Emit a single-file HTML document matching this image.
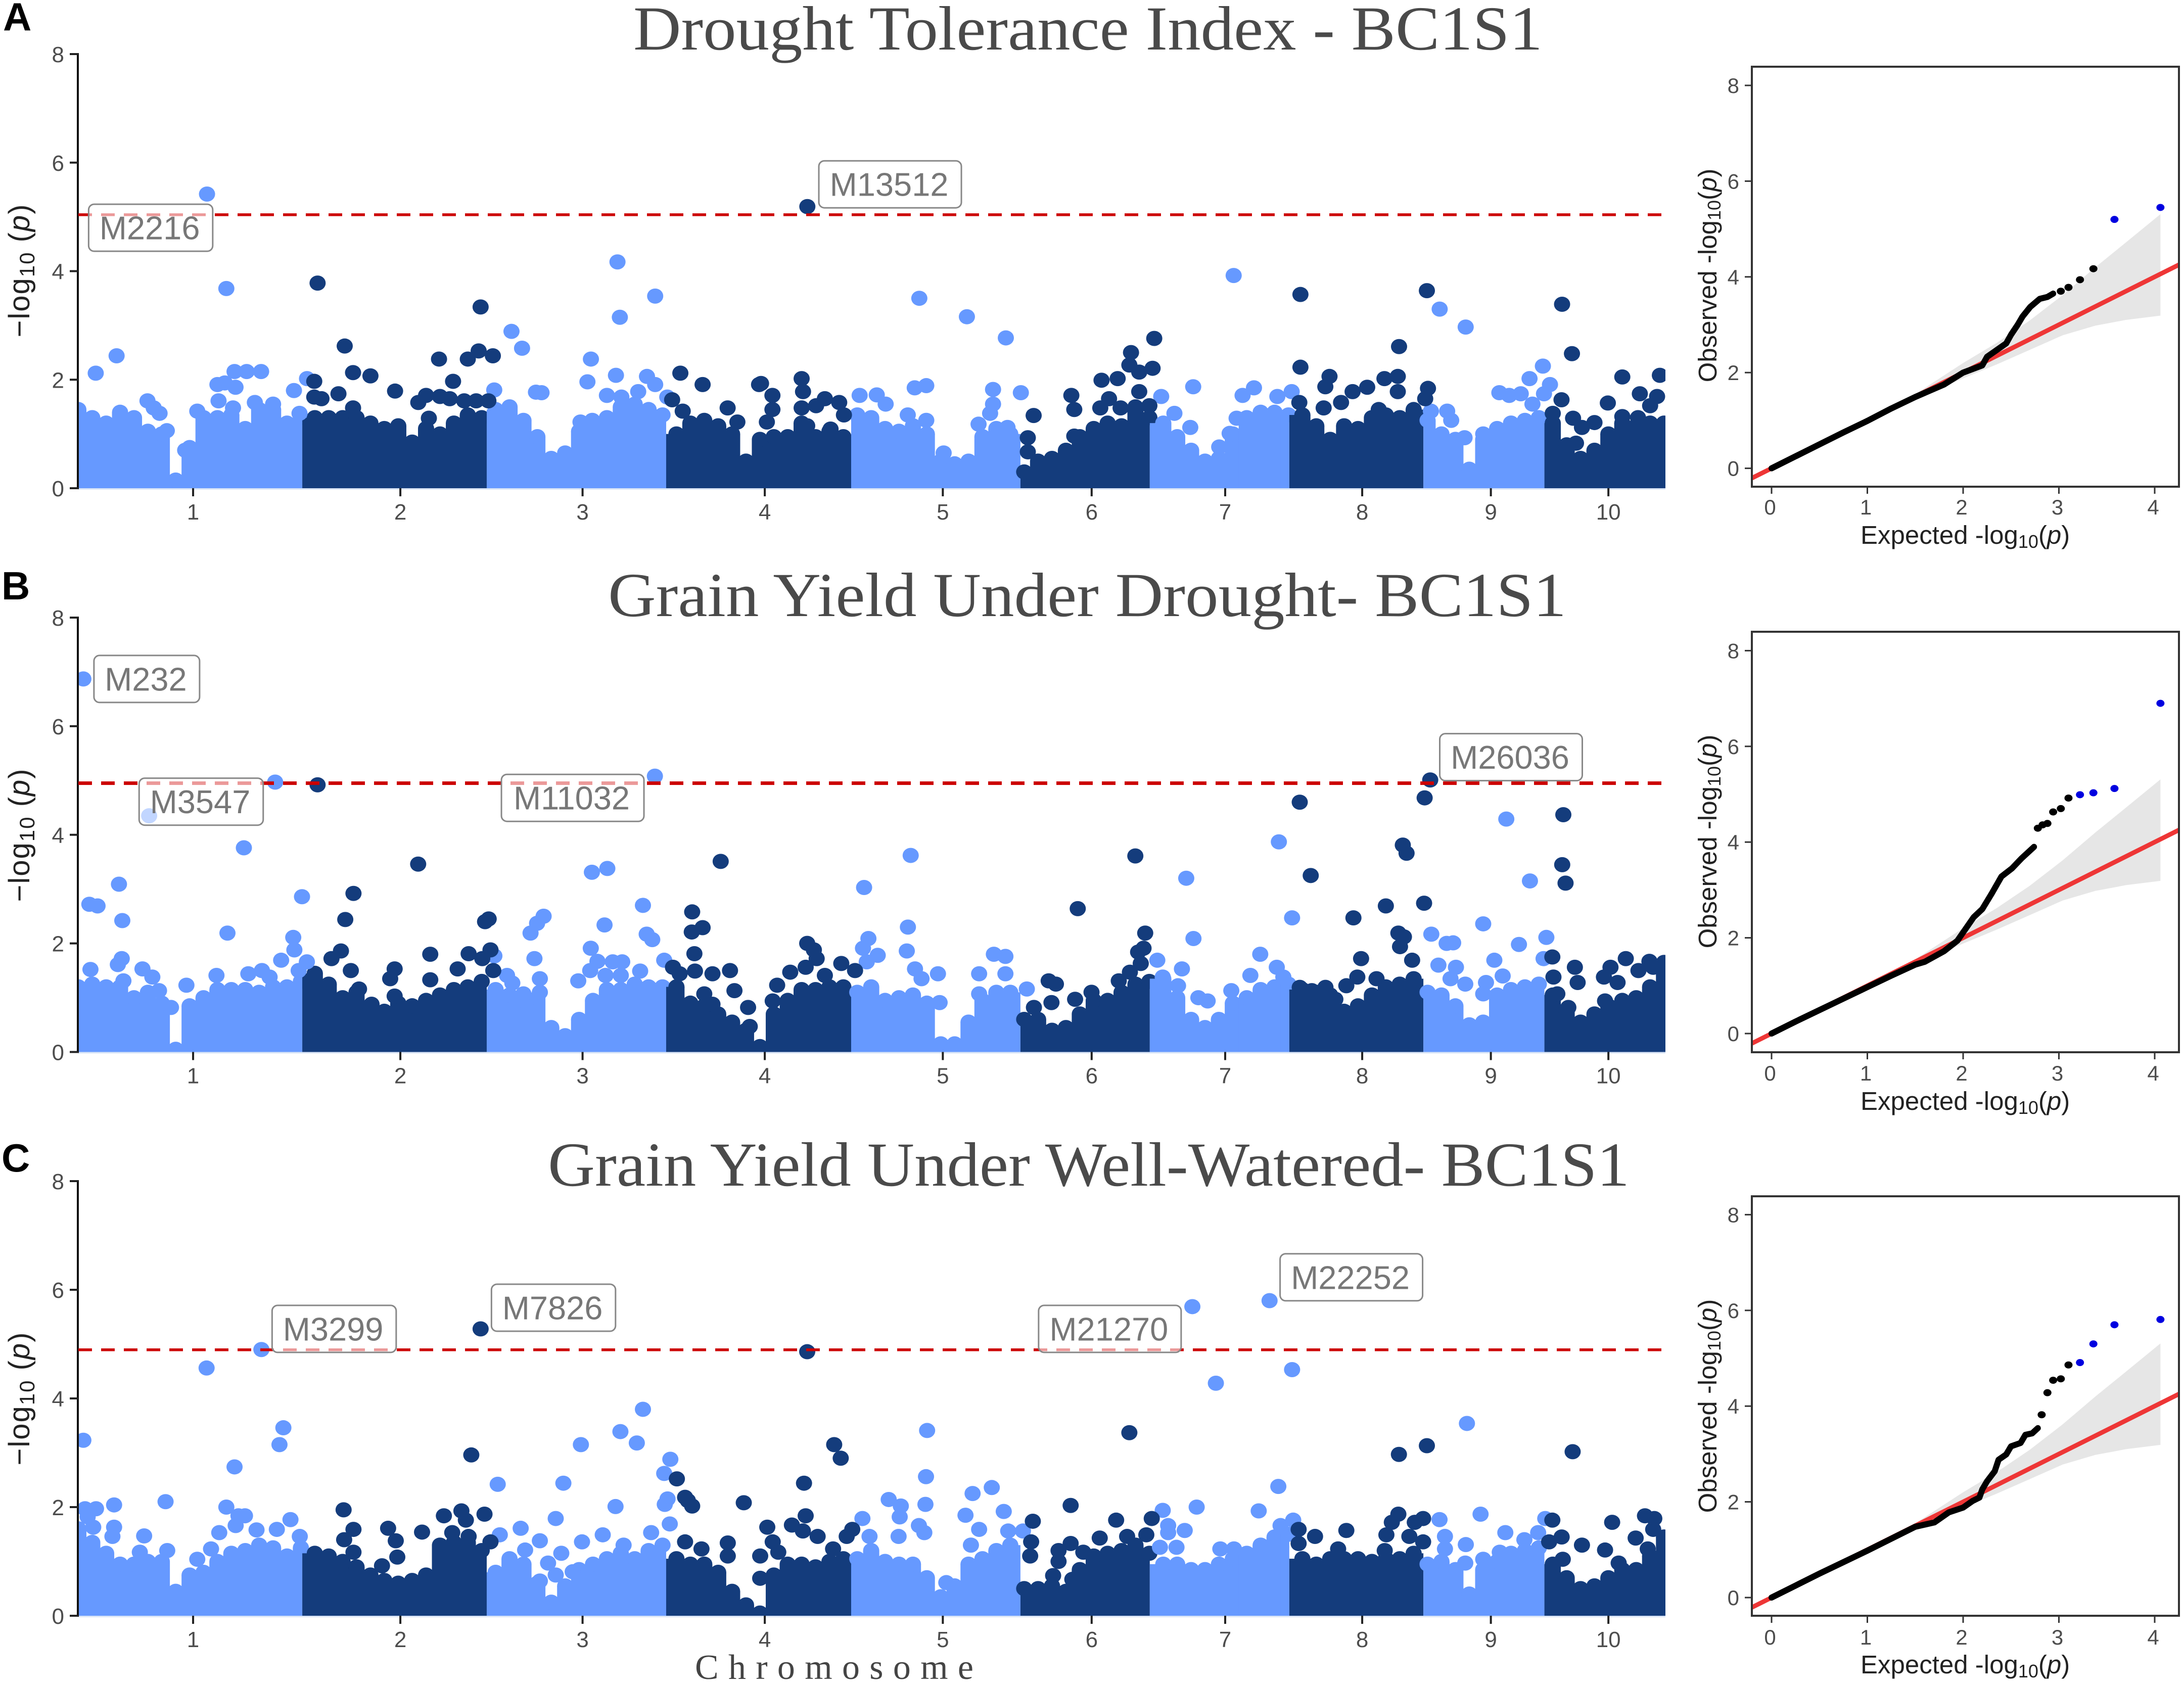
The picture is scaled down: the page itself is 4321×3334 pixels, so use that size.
<!DOCTYPE html>
<html lang="en">
<head>
<meta charset="utf-8">
<title>Manhattan and QQ plots - BC1S1</title>
<style>
html,body{margin:0;padding:0;background:#fff}
svg{display:block;font-family:"Liberation Sans",sans-serif}
.title{font-family:"Liberation Serif",serif;font-size:124px;fill:#4a4a4a}
.ylab{font-size:58px;fill:#222;letter-spacing:2px}
.qqlab{font-size:51px;fill:#222}
.letter{font-size:78px;font-weight:bold;fill:#000}
</style>
</head>
<body>
<svg id="figure" xmlns="http://www.w3.org/2000/svg" width="4321" height="3334" viewBox="0 0 4321 3334">
<rect width="4321" height="3334" fill="#fff"/>
<defs>
<clipPath id="clip-a"><rect x="155" y="90" width="3140" height="876"/></clipPath>
<clipPath id="clip-b"><rect x="155" y="1205" width="3140" height="877"/></clipPath>
<clipPath id="clip-c"><rect x="155" y="2320" width="3140" height="877"/></clipPath>
<clipPath id="clip-qa"><rect x="3466" y="132" width="845" height="831"/></clipPath>
<clipPath id="clip-qb"><rect x="3466" y="1250" width="845" height="832"/></clipPath>
<clipPath id="clip-qc"><rect x="3466" y="2367" width="845" height="830"/></clipPath>
</defs>
<text class="letter" x="6" y="60">A</text>
<text class="letter" x="3" y="1186">B</text>
<text class="letter" x="3" y="2318">C</text>
<text class="title" x="1253" y="98" textLength="1799" lengthAdjust="spacingAndGlyphs">Drought Tolerance Index - BC1S1</text>
<text class="title" x="1203" y="1219" textLength="1896" lengthAdjust="spacingAndGlyphs">Grain Yield Under Drought- BC1S1</text>
<text class="title" x="1084" y="2346" textLength="2140" lengthAdjust="spacingAndGlyphs">Grain Yield Under Well-Watered- BC1S1</text>
<text x="1375" y="3322" font-family="'Liberation Serif',serif" font-size="70" fill="#444" textLength="551" lengthAdjust="spacing">Chromosome</text>
<text class="ylab" text-anchor="middle" transform="translate(58,535) rotate(-90)">−log<tspan font-size="42" dy="10">10</tspan><tspan dy="-10"> (</tspan><tspan font-style="italic">p</tspan>)</text>
<text class="ylab" text-anchor="middle" transform="translate(58,1652) rotate(-90)">−log<tspan font-size="42" dy="10">10</tspan><tspan dy="-10"> (</tspan><tspan font-style="italic">p</tspan>)</text>
<text class="ylab" text-anchor="middle" transform="translate(58,2767) rotate(-90)">−log<tspan font-size="42" dy="10">10</tspan><tspan dy="-10"> (</tspan><tspan font-style="italic">p</tspan>)</text>
<text class="qqlab" x="3681" y="1076">Expected -log<tspan font-size="36" dy="8">10</tspan><tspan dy="-8">(</tspan><tspan font-style="italic">p</tspan>)</text>
<text class="qqlab" x="3681" y="2196">Expected -log<tspan font-size="36" dy="8">10</tspan><tspan dy="-8">(</tspan><tspan font-style="italic">p</tspan>)</text>
<text class="qqlab" x="3681" y="3311">Expected -log<tspan font-size="36" dy="8">10</tspan><tspan dy="-8">(</tspan><tspan font-style="italic">p</tspan>)</text>
<text class="qqlab" text-anchor="middle" transform="translate(3396,545) rotate(-90)">Observed -log<tspan font-size="36" dy="8">10</tspan><tspan dy="-8">(</tspan><tspan font-style="italic">p</tspan>)</text>
<text class="qqlab" text-anchor="middle" transform="translate(3396,1665) rotate(-90)">Observed -log<tspan font-size="36" dy="8">10</tspan><tspan dy="-8">(</tspan><tspan font-style="italic">p</tspan>)</text>
<text class="qqlab" text-anchor="middle" transform="translate(3396,2782) rotate(-90)">Observed -log<tspan font-size="36" dy="8">10</tspan><tspan dy="-8">(</tspan><tspan font-style="italic">p</tspan>)</text>
</svg>
<script>
/* Shared axis data: genome position units run 0..1141 */
const chromLabels = ['1','2','3','4','5','6','7','8','9','10'];
const chromEnds = [161,293.6,422.6,555.6,677.3,770.3,870.6,967,1054,1141];
const chromTicks = [82.5,231.5,362.5,493.5,621.5,728.5,824.5,923,1015.5,1100];
const yTicks = [0,2,4,6,8];
const qqXTicks = [0,1,2,3,4];
const qqYTicks = [0,2,4,6,8];

/* Mass of non-significant SNPs: upper envelope per 10 position units */
const envelopeStep = 10;
const envelopeA = [1.45,1.3,1.2,1.4,1.3,1.05,1.0,.15,.75,1.3,1.3,1.35,1.1,1.45,1.45,1.2,1.3,
 1.3,1.3,1.3,1.3,1.2,1.1,1.15,.85,1.1,1.0,1.2,1.35,1.3,
 1.45,1.5,1.25,.95,.55,.65,1.05,1.2,1.3,1.5,1.55,1.45,1.35,
 1.0,1.2,1.25,1.15,1.0,.5,.9,.95,.95,1.2,.95,1.05,.95,
 1.35,1.3,1.1,1.05,1.15,1.0,.5,.45,.5,.95,1.1,1.0,
 .3,.5,.55,.7,.95,1.1,1.2,1.15,1.5,1.3,
 1.2,.95,.7,.5,.55,1.0,1.3,1.4,1.4,1.35,
 1.35,1.15,.9,1.15,1.1,1.3,1.35,1.3,1.45,
 1.25,1.0,.9,.35,.9,1.1,1.2,1.25,1.3,
 1.2,.8,.55,.7,1.0,1.2,1.15,1.2,1.2];
const envelopeB = [1.2,1.25,1.2,1.2,1.0,1.1,.9,.05,.85,1.0,1.15,1.15,1.15,1.1,1.2,1.2,1.3,
 1.45,1.25,1.0,1.1,.85,.75,.9,.85,.95,1.05,1.15,1.2,1.3,
 1.15,1.05,.95,1.0,.45,.3,.6,.95,1.15,1.15,1.25,1.2,1.2,
 1.2,.9,.85,.7,.55,.4,.1,.7,.95,1.15,1.15,1.2,1.2,
 1.1,1.2,.95,1.0,1.05,.9,.15,.15,.55,.95,1.1,1.1,
 .6,.6,.4,.45,.7,.95,.95,1.1,1.25,1.3,
 1.35,1.0,.6,.45,.6,.9,1.0,1.15,1.2,1.25,
 1.15,1.1,1.05,.75,.85,1.05,1.2,1.25,1.35,
 1.1,1.05,.85,.5,.55,1.05,1.15,1.2,1.25,
 1.05,.75,.55,.7,.85,.95,1.0,1.2,1.65];
const envelopeC = [1.6,1.35,1.15,.95,.95,1.0,1.0,.45,.75,.8,1.0,1.15,1.2,1.3,1.25,1.1,1.25,
 1.15,1.1,1.0,.9,.75,.65,.6,.65,.75,1.3,1.35,1.35,1.2,
 .8,1.05,.95,.6,.25,.55,.85,.95,1.05,1.15,1.05,1.2,1.3,
 1.05,.95,.95,.8,.45,.2,.05,.75,.95,.95,.9,1.0,1.05,
 1.05,1.2,1.0,.95,.95,.7,.35,.55,.95,1.05,1.2,1.3,
 .5,.5,.55,.45,.85,1.1,1.15,1.2,1.3,1.15,
 .95,.95,.85,.85,.95,1.05,1.15,1.3,1.45,1.5,
 1.05,.95,1.05,1.05,1.05,1.0,1.05,1.05,1.15,
 .95,1.0,.85,.4,.85,1.0,1.15,1.2,1.25,
 .95,.7,.5,.55,.7,.85,.85,1.1,1.45];

/* Individually visible SNPs: [genome position, -log10 p] */
const lightA = [[92.5,5.42],[106.4,3.68],[12.5,2.12],[27.5,2.44],[49.7,1.61],[54.2,1.48],[58.4,1.38],[63.6,1.06],[76.8,.7],[85.5,1.42],[100,1.91],[105.3,1.94],[113,1.86],[112.3,2.15],[121,2.15],[131.4,2.15],[100.8,1.61],[111.2,1.48],[126.9,1.58],[140,1.55],[155,1.8],[164.4,2.02],[159,1.38],[311.4,2.89],[319,2.58],[299,1.81],[333,1.76],[329,1.77],[368.5,2.38],[366,1.96],[386.5,2.08],[387.6,4.17],[389.3,3.15],[414.7,3.54],[408.8,2.06],[414.7,1.91],[380,1.71],[402.5,1.78],[390.4,1.68],[423.4,1.68],[361,1.22],[369.5,1.25],[604.6,3.5],[638.8,3.16],[666.8,2.77],[601.3,1.85],[609.6,1.89],[561.7,1.71],[574,1.72],[580.4,1.55],[596.3,1.35],[609.6,1.25],[657.6,1.82],[657.6,1.55],[655.5,1.38],[647.2,1.18],[677.6,1.76],[668,1.12],[622.1,.65],[830.6,3.92],[801.5,1.87],[778.5,1.69],[788,1.38],[837,1.71],[845.2,1.85],[862,1.69],[872.3,1.78],[832.7,1.29],[827.7,1.01],[799.4,1.12],[820.2,.76],[978.7,3.3],[997.4,2.97],[972.4,1.42],[984.1,1.42],[987,1.25],[996.6,.93],[1010,1],[1021.6,1.76],[1028.7,1.71],[1037,1.74],[1043.3,2.02],[1052.9,2.25],[1058,1.91],[1053.7,1.74],[1045.4,1.55]];
const darkA = [[169.6,1.97],[169.6,1.68],[174.8,1.65],[187,1.74],[197.5,1.48],[197.5,2.13],[210,2.07],[191.5,2.62],[172,3.78],[227.7,1.79],[244.4,1.58],[250,1.71],[260,1.69],[267,1.65],[252,1.29],[269.4,1.97],[259.3,2.38],[280,2.38],[287.8,2.53],[298,2.44],[289.2,3.34],[277.4,1.61],[286,1.61],[294.8,1.61],[426.9,1.63],[432.8,2.12],[448.8,1.91],[434.5,1.42],[466.8,1.48],[473.8,1.22],[489.4,1.91],[490.8,1.93],[499,1.71],[499,1.45],[495,1.22],[520,2.02],[521,1.78],[520,1.48],[530.4,1.52],[536.7,1.65],[547,1.58],[550.4,1.35],[540.8,1.09],[524,1.15],[524.1,5.19],[686.8,1.34],[682.6,.93],[682.6,.67],[713.9,1.71],[716,1.45],[716,.96],[735.6,1.99],[747.2,2.02],[756.8,2.5],[755.6,2.27],[762.7,2.14],[772.3,2.21],[773.5,2.76],[762.7,1.78],[741,1.65],[749.3,1.48],[734.7,1.48],[770,1.52],[878.6,3.57],[878.6,2.23],[877.8,1.58],[899.5,2.06],[896.5,1.87],[895.3,1.48],[916.1,1.78],[907.8,1.58],[926.6,1.86],[939,2.02],[948.6,2.06],[949.5,2.61],[948.6,1.78],[934.9,1.45],[970.3,1.84],[969.5,3.64],[968.3,1.65],[1066.7,3.39],[1073.8,2.48],[1066.3,1.63],[1060,1.38],[1074.6,1.29],[1081,1.12],[1090,1.21],[1099.6,1.57],[1110,2.05],[1122.6,1.74],[1137,2.08],[1135,1.69],[1130,1.52],[1121.3,1.3],[1110,1.32],[1076.7,.83]];
const lightB = [[3.6,6.87],[141.5,4.97],[50.9,4.35],[119,3.76],[29.2,3.09],[7.9,2.72],[13.8,2.69],[31.6,2.42],[160.8,2.86],[107.2,2.19],[154.5,2.11],[155.3,1.88],[145.8,1.69],[31.2,1.72],[28.4,1.61],[8.7,1.52],[32.4,1.31],[46.1,1.53],[53.2,1.38],[58,1.13],[66.6,.82],[77.7,1.23],[99.3,1.41],[122.2,1.44],[132,1.5],[137.5,1.38],[158.4,1.5],[164.3,1.66],[414.5,5.08],[369.2,3.31],[380.3,3.38],[405.9,2.7],[378.3,2.34],[325.1,2.19],[329.8,2.37],[334.5,2.5],[408.6,2.17],[412.6,2.07],[368.4,1.91],[373.2,1.67],[368,1.5],[327.9,1.72],[299.1,1.77],[308.2,1.41],[312,1.27],[331.8,1.35],[331.8,1.1],[320,1.07],[359.4,1.31],[384.2,1.66],[391,1.66],[403.9,1.49],[421.2,1.69],[379,1.41],[390,1.41],[564.9,3.03],[598.4,3.62],[596.4,2.3],[595.6,1.86],[568,2.09],[564.1,1.91],[574.7,1.78],[566.8,1.66],[601.5,1.53],[618,1.44],[606.2,1.35],[619.2,.91],[658.2,1.8],[666.5,1.76],[647.6,1.44],[666.5,1.44],[647.6,1.07],[681.9,1.16],[796.5,3.2],[863.1,3.87],[872.6,2.47],[801.7,2.09],[775.7,1.69],[793.4,1.53],[790.6,1.22],[779.6,1.38],[849.7,1.8],[861.6,1.56],[842.6,1.41],[828.9,1.13],[805.2,1],[811.9,.94],[866.3,1.38],[1026.6,4.29],[1043.6,3.15],[1010,2.36],[1055.4,2.11],[1035.7,1.98],[983.7,2],[988.4,2.01],[972.7,2.17],[1018,1.69],[977.8,1.6],[990.4,1.56],[997.1,1.25],[1012,1.28],[1024,1.4],[1053.4,1.72],[1010,1.07],[986.5,1.35]];
const darkB = [[172,4.92],[197.8,2.92],[191.9,2.44],[244.3,3.46],[292.4,2.4],[295,2.45],[188.8,1.86],[182,1.72],[195.9,1.5],[253,1.8],[280.6,1.81],[227.4,1.53],[224.2,1.35],[253,1.33],[272.7,1.53],[290.4,1.72],[296.3,1.88],[298.3,1.5],[201.8,1.16],[227.4,1.03],[203.7,.66],[210.8,.88],[240,.85],[461.8,3.51],[441.3,2.58],[441,2.21],[448.8,2.29],[442.9,1.81],[443.3,1.49],[427.5,1.56],[432.3,1.44],[455.9,1.44],[468.5,1.5],[450,1.07],[471.7,1.13],[455.9,.88],[481.5,.82],[482.7,.47],[499.2,.94],[502.4,1.23],[511.8,1.47],[522.9,1.56],[524,2],[528.8,1.88],[530.8,1.72],[536.7,1.41],[548.5,1.63],[558.4,1.5],[718.5,2.64],[759.9,3.61],[767,2.19],[765.8,1.91],[761.9,1.84],[763.8,1.63],[697.6,1.31],[702.8,1.25],[699.6,.91],[687,.82],[716.6,.97],[756,1.47],[748,1.31],[728.4,1.1],[878.1,4.6],[967.9,4.68],[971.9,5.01],[952.2,3.81],[954.9,3.66],[886,3.25],[967.5,2.74],[940,2.69],[916.7,2.47],[949,2.19],[953,2.12],[950.2,1.94],[922.2,1.72],[919.5,1.38],[911.6,1.22],[878.1,1.19],[896.6,1.19],[903.7,.97],[958.9,1.69],[933.3,1.35],[886.8,1.13],[878.1,.91],[1067.6,4.37],[1066.8,3.45],[1069.2,3.11],[1059.7,1.75],[1060.5,1.38],[1075.9,1.56],[1077.9,1.28],[1063.3,1.07],[1071.2,.82],[1096.8,1.38],[1101.5,1.56],[1112.5,1.72],[1106.6,1.28],[1097.6,.94],[1129.5,1.67],[1121.6,1.5],[1132.2,1.56]];
const lightC = [[3.6,3.23],[92.2,4.56],[131.6,4.9],[147.4,3.46],[144.6,3.15],[112.3,2.74],[62.7,2.1],[25.7,2.04],[12.7,1.97],[4.8,1.97],[106.4,2],[115.1,1.84],[119.8,1.84],[152.5,1.77],[142.7,1.59],[159.2,1.46],[101.3,1.53],[47.3,1.47],[25.7,1.63],[24.5,1.46],[10.7,1.63],[6.7,1.82],[128.1,1.58],[113.1,1.66],[85.5,1.04],[95.4,1.23],[63.9,1.2],[44.2,1.17],[405.9,3.8],[389.7,3.39],[401.5,3.18],[361.3,3.15],[425.6,2.88],[421.2,2.62],[348.7,2.44],[301.5,2.42],[423.6,2.15],[421.6,2.05],[386.2,2.01],[343.2,1.79],[425.2,1.69],[318,1.61],[303,1.49],[331.8,1.38],[321.2,1.21],[377,1.49],[411.8,1.53],[362.1,1.36],[392,1.3],[347.2,1.15],[337.7,.97],[343.2,.75],[355.4,.81],[331.8,.64],[610.2,3.41],[609.4,2.56],[609,2.05],[582.6,2.14],[591.3,2.02],[590.5,1.82],[563.7,1.79],[604.3,1.66],[608.2,1.53],[589.7,1.46],[568.8,1.46],[656.7,2.36],[642.9,2.25],[665.3,1.92],[637.8,1.85],[647.6,1.59],[668.5,1.56],[641.7,1.3],[679.1,1.56],[624,.61],[800.9,5.69],[856.4,5.8],[872.6,4.53],[817.8,4.28],[862.7,2.38],[804,2],[848.6,1.93],[779.6,1.94],[783.5,1.66],[795.4,1.57],[783.5,1.53],[777.6,1.26],[789.5,1.26],[873.4,1.76],[821,1.23],[830.8,1.23],[864.3,1.66],[998.3,3.54],[1008.1,1.87],[978.6,1.77],[982.5,1.46],[997.5,1.31],[1025.9,1.53],[1039.6,1.4],[1049.5,1.53],[1054.6,1.79],[1021.9,1.17],[997.1,.97],[1010,1.04],[1010,.74],[982.5,1.23]];
const darkC = [[289.2,5.28],[282.5,2.96],[190.7,1.95],[197.8,1.59],[191.1,1.4],[197.8,1.17],[222.7,1.61],[228.2,1.38],[229.3,1.08],[218.3,.92],[247.1,1.54],[262.8,1.84],[275.4,1.93],[278.6,1.76],[292,1.87],[268.8,1.53],[280.6,1.46],[296.3,1.36],[430.3,2.52],[436.2,2.18],[438.2,2.12],[441.3,2.02],[478.4,2.08],[521.7,2.44],[524,4.86],[543.4,3.15],[548.1,2.9],[522.9,1.84],[513,1.67],[520.9,1.56],[531.5,1.46],[542.6,1.23],[436.2,1.36],[448,1.23],[466.9,1.34],[466.9,1.1],[495.3,1.63],[499.2,1.36],[503.2,1.17],[490.2,1.1],[490.2,.69],[556.4,1.59],[552.4,1.46],[755.6,3.37],[713.4,2.03],[686.2,1.74],[746.1,1.76],[771.7,1.79],[767.8,1.49],[685,1.36],[684.3,1.1],[704.7,1.2],[713.4,1.33],[722.5,1.17],[704.7,1],[700.8,.74],[714.6,.67],[734.3,1.43],[754,1.46],[949.4,2.97],[969.5,3.13],[877.3,1.59],[877.3,1.33],[889.1,1.46],[911.6,1.57],[905.7,1.23],[949,1.87],[944.3,1.72],[940.4,1.49],[960.8,1.72],[966.8,1.79],[956.9,1.46],[966.8,1.36],[939.2,1.2],[1074.3,3.02],[1059.7,1.76],[1066.4,1.45],[1081,1.3],[1102.7,1.72],[1097.6,1.21],[1126.3,1.84],[1133,1.79],[1132.2,1.59],[1119.6,1.43],[1128.3,1.23],[1107.4,.97],[1057.4,1.36],[1067.2,1.04]];

/* Significance thresholds */
const thresholdA = 5.04;
const thresholdB = 4.95;
const thresholdC = 4.895;

/* Marker annotations: [marker name, genome position, -log10 p] of the label centre */
const markersA = [['M2216',52,4.8],['M13512',583.6,5.6]];
const markersB = [['M232',49.2,6.87],['M3547',88.3,4.61],['M11032',355.4,4.68],['M26036',1030,5.43]];
const markersC = [['M3299',183.9,5.28],['M7826',341.6,5.67],['M21270',741.6,5.28],['M22252',915.2,6.23]];

/* QQ data */
const bandExpected = [0,1,1.5,2,2.35,2.69,3.04,3.38,3.7,4.06];
const bandUpper = [.03,1.02,1.55,2.2,2.62,3.08,3.62,4.2,4.72,5.31];
const bandLower = [0,.98,1.45,1.88,2.17,2.47,2.78,2.98,3.1,3.19];
const qqExpectedA = [0,.25,.5,.75,1,1.25,1.5,1.8,2,2.2,2.25,2.35,2.45,2.5,2.57,2.62,2.7,2.8,2.88,2.94];
const qqObservedA = [0,.25,.5,.75,.99,1.25,1.49,1.75,2,2.15,2.33,2.47,2.61,2.79,3,3.17,3.37,3.54,3.58,3.65];
const qqTailExpectedA = [3.02,3.1,3.22,3.36];
const qqTailObservedA = [3.7,3.78,3.94,4.17];
const qqHitExpectedA = [3.58,4.06];
const qqHitObservedA = [5.2,5.45];
const qqExpectedB = [0,.25,.5,.75,1,1.25,1.5,1.6,1.8,1.94,2.11,2.2,2.3,2.4,2.51,2.61,2.74];
const qqObservedB = [0,.25,.49,.73,.97,1.21,1.44,1.5,1.72,1.94,2.43,2.6,2.93,3.28,3.45,3.66,3.9];
const qqTailExpectedB = [2.78,2.83,2.88,2.94,3.02,3.1];
const qqTailObservedB = [4.29,4.36,4.39,4.63,4.7,4.92];
const qqHitExpectedB = [3.22,3.36,3.58,4.06];
const qqHitObservedB = [4.99,5.03,5.12,6.9];
const qqExpectedC = [0,.25,.5,.75,1,1.25,1.5,1.7,1.85,2,2.1,2.17,2.2,2.25,2.33,2.37,2.45,2.5,2.6,2.65,2.72,2.78];
const qqObservedC = [0,.25,.5,.74,.98,1.23,1.48,1.57,1.78,1.88,2.02,2.09,2.26,2.43,2.64,2.88,2.99,3.16,3.23,3.4,3.43,3.54];
const qqTailExpectedC = [2.82,2.88,2.94,3.02,3.1];
const qqTailObservedC = [3.82,4.28,4.54,4.57,4.86];
const qqHitExpectedC = [3.22,3.36,3.58,4.06];
const qqHitObservedC = [4.91,5.3,5.7,5.81];

const NS = 'http://www.w3.org/2000/svg';
const root = document.getElementById('figure');
const LIGHT = '#6699ff', DARK = '#143c7c';
const xLeft = 155, xRight = 3295, genomeLength = 1141;
const xScale = p => xLeft + p * (xRight - xLeft) / genomeLength;

function mk(tag, attrs, parent, text) {
  const el = document.createElementNS(NS, tag);
  for (const k in attrs) el.setAttribute(k, attrs[k]);
  if (text !== undefined) el.textContent = text;
  (parent || root).appendChild(el);
  return el;
}
function chromIndex(p) {
  for (let i = 0; i < chromEnds.length; i++) if (p <= chromEnds[i]) return i;
  return chromEnds.length - 1;
}

function drawManhattan(id, y0, y8, envelope, light, dark, threshold, markers) {
  const yScale = v => y0 - v * (y0 - y8) / 8;
  const marks = mk('g', {'clip-path': 'url(#clip-' + id + ')'});
  
  
  const rx = 16, ry = 15;

  envelope.forEach((v, i) => {
    const p = i * envelopeStep;
    const c = chromIndex(p);
    const fill = c % 2 ? DARK : LIGHT;
    const lo = c ? xScale(chromEnds[c - 1]) : xLeft;
    const hi = xScale(chromEnds[c]);
    const cx = xScale(p);
    const firstInChrom = i === 0 || chromIndex(p - envelopeStep) !== c;
    const lastInChrom = i === envelope.length - 1 || chromIndex(p + envelopeStep) !== c;
    const x1 = firstInChrom ? lo : Math.max(cx - rx, lo);
    const x2 = lastInChrom ? hi : Math.min(cx + rx, hi);
    const bar = mk('rect', {x: x1, y: yScale(v), width: Math.max(x2 - x1, 0), height: y0 - yScale(v), fill: fill}, marks);
    
    
    const cap = mk('ellipse', {cx: cx, cy: yScale(v), rx: rx, ry: ry, fill: fill}, marks);
    
    
  });
  light.forEach(d => {
    const pt = mk('ellipse', {cx: xScale(d[0]), cy: yScale(d[1]), rx: rx, ry: ry, fill: LIGHT}, marks);
    
    
  });
  dark.forEach(d => {
    const pt = mk('ellipse', {cx: xScale(d[0]), cy: yScale(d[1]), rx: rx, ry: ry, fill: DARK}, marks);
    
    
  });

  const base = mk('line', {x1: xLeft, x2: xRight, y1: y0 + 1.5, y2: y0 + 1.5, stroke: '#dbe6f7', 'stroke-width': 3});
  
  
  const axis = mk('line', {x1: xLeft - 1, x2: xLeft - 1, y1: y8 - 2, y2: y0 + 2, stroke: '#111', 'stroke-width': 4});
  
  

  yTicks.forEach(t => {
    const tick = mk('line', {x1: xLeft - 17, x2: xLeft, y1: yScale(t), y2: yScale(t), stroke: '#222', 'stroke-width': 4});
    
    
    const lab = mk('text', {x: 127, y: yScale(t) + 16, 'text-anchor': 'end', 'font-size': 44, fill: '#4d4d4d'}, root, String(t));
    
    
  });
  chromTicks.forEach((t, i) => {
    const tick = mk('line', {x1: xScale(t), x2: xScale(t), y1: y0, y2: y0 + 16, stroke: '#222', 'stroke-width': 4});
    
    
    const lab = mk('text', {x: xScale(t), y: y0 + 62, 'text-anchor': 'middle', 'font-size': 44, fill: '#4d4d4d'}, root, chromLabels[i]);
    
    
  });

  const line = mk('line', {x1: xLeft, x2: xRight, y1: yScale(threshold), y2: yScale(threshold), stroke: '#cc0000', 'stroke-width': id === 'b' ? 7 : 5.5, 'stroke-dasharray': '27 18'});
  
  

  markers.forEach(m => {
    const w = 36.5 * m[0].length + 63, h = 93;
    const cx = xScale(m[1]), cy = yScale(m[2]);
    const box = mk('rect', {x: cx - w / 2, y: cy - h / 2, width: w, height: h, rx: 11, fill: '#fff', 'fill-opacity': .6, stroke: '#888', 'stroke-width': 3});
    
    
    const txt = mk('text', {x: cx - 2, y: cy + 23, 'text-anchor': 'middle', 'font-size': 65, fill: '#777'}, root, m[0]);
    
    
  });
}

function drawQQ(id, top, bottom, zeroY, xLabelY, expected, observed, tailX, tailY, hitX, hitY) {
  const qx = v => 3505 + v * 189.5;
  const qy = v => zeroY - v * 94.7;
  const g = mk('g', {'clip-path': 'url(#clip-q' + id + ')'});
  
  

  const up = bandExpected.map((x, i) => qx(x) + ',' + qy(bandUpper[i]));
  const low = bandExpected.map((x, i) => qx(x) + ',' + qy(bandLower[i])).reverse();
  const band = mk('polygon', {points: up.concat(low).join(' '), fill: '#e6e6e6'}, g);
  
  

  const ref = mk('line', {x1: qx(-.4), y1: qy(-.4), x2: qx(4.4), y2: qy(4.4), stroke: '#ee3636', 'stroke-width': 9}, g);
  
  

  const curve = mk('polyline', {points: expected.map((x, i) => qx(x) + ',' + qy(observed[i])).join(' '), fill: 'none', stroke: '#000', 'stroke-width': 12, 'stroke-linecap': 'round', 'stroke-linejoin': 'round'}, g);
  
  

  tailX.forEach((x, i) => {
    const p = mk('ellipse', {cx: qx(x), cy: qy(tailY[i]), rx: 8, ry: 7, fill: '#000'}, g);
    
    
  });
  hitX.forEach((x, i) => {
    const p = mk('ellipse', {cx: qx(x), cy: qy(hitY[i]), rx: 8, ry: 7, fill: '#0000e0'}, g);
    
    
  });

  const frame = mk('rect', {x: 3466, y: top, width: 845, height: bottom - top, fill: 'none', stroke: '#333', 'stroke-width': 4});
  
  

  qqYTicks.forEach(t => {
    const tick = mk('line', {x1: 3452, x2: 3466, y1: qy(t), y2: qy(t), stroke: '#333', 'stroke-width': 3});
    
    
    const lab = mk('text', {x: 3441, y: qy(t) + 15, 'text-anchor': 'end', 'font-size': 42, fill: '#4d4d4d'}, root, String(t));
    
    
  });
  qqXTicks.forEach(t => {
    const tick = mk('line', {x1: qx(t), x2: qx(t), y1: bottom, y2: bottom + 14, stroke: '#333', 'stroke-width': 3});
    
    
    const lab = mk('text', {x: qx(t) - 3, y: xLabelY, 'text-anchor': 'middle', 'font-size': 42, fill: '#4d4d4d'}, root, String(t));
    
    
  });
}

drawManhattan('a', 966, 107, envelopeA, lightA, darkA, thresholdA, markersA);
drawManhattan('b', 2081.5, 1222, envelopeB, lightB, darkB, thresholdB, markersB);
drawManhattan('c', 3197, 2337, envelopeC, lightC, darkC, thresholdC, markersC);
drawQQ('a', 132, 963, 926.6, 1018, qqExpectedA, qqObservedA, qqTailExpectedA, qqTailObservedA, qqHitExpectedA, qqHitObservedA);
drawQQ('b', 1250, 2082, 2045, 2138, qqExpectedB, qqObservedB, qqTailExpectedB, qqTailObservedB, qqHitExpectedB, qqHitObservedB);
drawQQ('c', 2367, 3197, 3161, 3254, qqExpectedC, qqObservedC, qqTailExpectedC, qqTailObservedC, qqHitExpectedC, qqHitObservedC);
</script>
</body>
</html>
